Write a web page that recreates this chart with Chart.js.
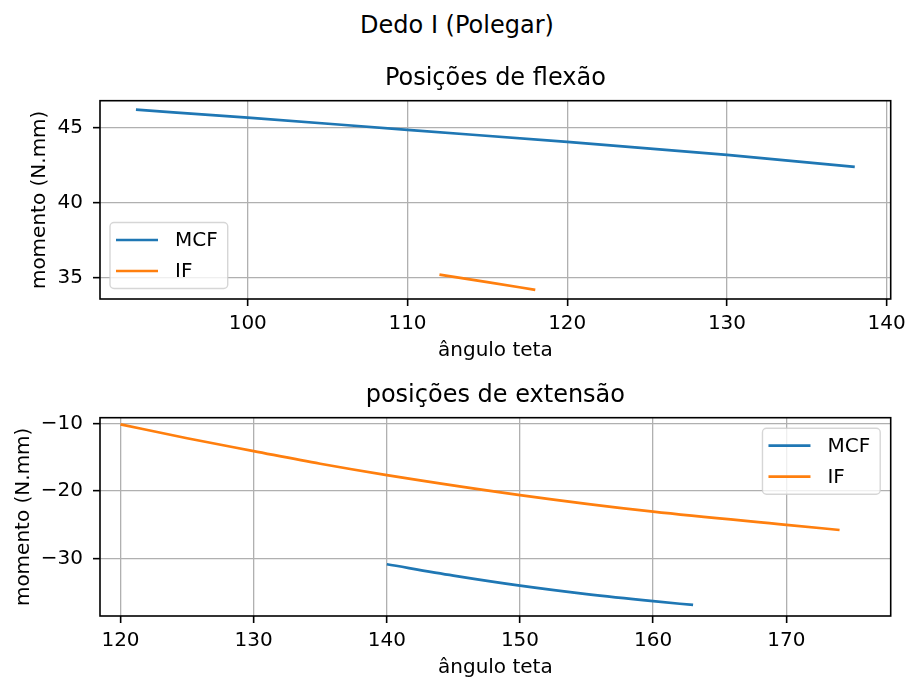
<!DOCTYPE html>
<html>
<head>
<meta charset="utf-8">
<script src="https://cdn.jsdelivr.net/npm/chart.js@4.4.0/dist/chart.umd.min.js"></script>
<style>
  body { margin: 0; background: #fff; }
  #sup { position: absolute; left: 3px; top: 11px; width: 908px; text-align: center;
         font: 24px/28px 'DejaVu Sans'; color: #000; }
  .box { position: absolute; left: 0; width: 908px; }
</style>
</head>
<body>
<div id="sup">Dedo I (Polegar)</div>
<div class="box" style="top:44px;height:326px"><canvas id="canvas-1"></canvas></div>
<div class="box" style="top:370px;height:312px"><canvas id="canvas-2"></canvas></div>
<script>
// data
var seriesLabels = ['MCF', 'IF'];
var flexMcfAngle = [93, 100, 110, 120, 130, 138];
var flexMcfMoment = [46.2, 45.67, 44.85, 44.05, 43.18, 42.38];
var flexIfAngle = [112, 115, 118];
var flexIfMoment = [35.18, 34.68, 34.16];
var extMcfAngle = [140, 145, 150, 155, 160, 163];
var extMcfMoment = [-30.83, -32.5, -33.98, -35.23, -36.28, -36.84];
var extIfAngle = [120, 125, 130, 135, 140, 150, 160, 170, 174];
var extIfMoment = [-10.15, -12.2, -14.1, -15.98, -17.65, -20.6, -23.06, -25.0, -25.76];
var flexXTicks = [100, 110, 120, 130, 140];
var flexYTicks = [35, 40, 45];
var extXTicks = [120, 130, 140, 150, 160, 170];
var extYTicks = [-30, -20, -10];

var blue = '#1f77b4', orange = '#ff7f0e';
Chart.defaults.font.family = "'DejaVu Sans'";
Chart.defaults.color = '#000';

function toPoints(xs, ys) {
  return xs.map(function (x, i) { return { x: x, y: ys[i] }; });
}
function fmt(v) { return String(v).replace('-', '\u2212'); }

// axes frame + matplotlib-like legend inside the plot area
var mplBox = {
  id: 'mplBox',
  afterDatasetsDraw: function (chart, args, opts) {
    var ctx = chart.ctx, a = chart.chartArea;
    ctx.save();
    ctx.strokeStyle = '#000';
    ctx.lineWidth = 1.6;
    ctx.strokeRect(a.left, a.top, a.right - a.left, a.bottom - a.top);

    var sets = chart.data.datasets;
    ctx.font = "20px 'DejaVu Sans'";
    var tw = 0;
    sets.forEach(function (d) { tw = Math.max(tw, ctx.measureText(d.label).width); });
    var w = 6 + 42 + 17 + tw + 10, h = 35 + 31 * (sets.length - 1);
    var bx = opts.corner === 'lower left' ? a.left + 10 : a.right - 10.5 - w;
    var by = opts.corner === 'lower left' ? a.bottom - 10.5 - h : a.top + 10.5;
    ctx.beginPath();
    ctx.roundRect(bx, by, w, h, 4);
    ctx.fillStyle = 'rgba(255,255,255,0.8)';
    ctx.fill();
    ctx.strokeStyle = 'rgba(204,204,204,0.8)';
    ctx.lineWidth = 1.4;
    ctx.stroke();
    sets.forEach(function (d, i) {
      var y = by + 17.5 + i * 31;
      ctx.beginPath();
      ctx.moveTo(bx + 6, y);
      ctx.lineTo(bx + 48, y);
      ctx.strokeStyle = d.borderColor;
      ctx.lineWidth = 2.7;
      ctx.stroke();
      ctx.fillStyle = '#000';
      ctx.textBaseline = 'middle';
      ctx.textAlign = 'left';
      ctx.fillText(d.label, bx + 65, y + 1);
    });
    ctx.restore();
  }
};

function axis(min, max, ticks, size, title, titlePad, horizontal) {
  return {
    type: 'linear', min: min, max: max,
    afterBuildTicks: function (s) { s.ticks = ticks.map(function (v) { return { value: v }; }); },
    afterFit: function (s) {
      if (horizontal) { s.height = size; s.paddingLeft = 0; s.paddingRight = 0; }
      else { s.width = size; s.paddingTop = 0; s.paddingBottom = 0; }
    },
    grid: { color: '#b0b0b0', lineWidth: 1.3, tickColor: '#000', tickLength: 7, tickWidth: 1.6 },
    border: { display: false },
    ticks: { padding: horizontal ? 5.5 : 10, color: '#000', font: { size: 20 },
             maxRotation: 0, autoSkip: false, callback: fmt },
    title: { display: true, text: title, color: '#000', font: { size: 20 }, padding: titlePad }
  };
}

function lineSet(label, color, xs, ys) {
  return { label: label, data: toPoints(xs, ys), borderColor: color, backgroundColor: color,
           borderWidth: 2.7, pointRadius: 0, cubicInterpolationMode: 'monotone' };
}

var ctx = document.getElementById('canvas-1');
var chart = new Chart(ctx, {
  type: 'line',
  data: { datasets: [
    lineSet(seriesLabels[0], blue, flexMcfAngle, flexMcfMoment),
    lineSet(seriesLabels[1], orange, flexIfAngle, flexIfMoment)
  ] },
  plugins: [mplBox],
  options: {
    responsive: true, maintainAspectRatio: false, animation: false,
    layout: { padding: { top: 10, right: 17.3, left: 0, bottom: 0 } },
    scales: {
      x: axis(90.75, 140.25, flexXTicks, 71, 'ângulo teta', { top: 0, bottom: 7.7 }, true),
      y: axis(33.55, 46.8, flexYTicks, 100, 'momento (N.mm)', { top: 28, bottom: 0 }, false)
    },
    plugins: {
      legend: { display: false },
      tooltip: { enabled: false },
      title: { display: true, fullSize: false, text: 'Posições de flexão', color: '#000',
               font: { size: 24, weight: 'normal' }, padding: { top: 10.2, bottom: 7.7 } },
      mplBox: { corner: 'lower left' }
    }
  }
});

var ctx = document.getElementById('canvas-2');
var chart = new Chart(ctx, {
  type: 'line',
  data: { datasets: [
    lineSet(seriesLabels[0], blue, extMcfAngle, extMcfMoment),
    lineSet(seriesLabels[1], orange, extIfAngle, extIfMoment)
  ] },
  plugins: [mplBox],
  options: {
    responsive: true, maintainAspectRatio: false, animation: false,
    layout: { padding: { top: 0, right: 17.3, left: 0, bottom: 0 } },
    scales: {
      x: axis(118.46, 177.84, extXTicks, 66, 'ângulo teta', { top: 0, bottom: 2 }, true),
      y: axis(-38.47, -9.17, extYTicks, 100, 'momento (N.mm)', { top: 11.5, bottom: 0 }, false)
    },
    plugins: {
      legend: { display: false },
      tooltip: { enabled: false },
      title: { display: true, fullSize: false, text: 'posições de extensão', color: '#000',
               font: { size: 24, weight: 'normal' }, padding: { top: 11.2, bottom: 7.7 } },
      mplBox: { corner: 'upper right' }
    }
  }
});
</script>
</body>
</html>
